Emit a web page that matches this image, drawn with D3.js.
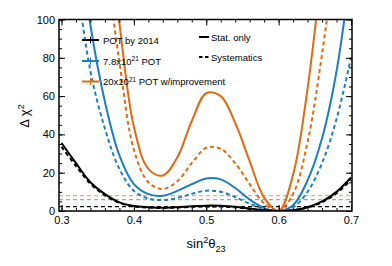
<!DOCTYPE html>
<html>
<head>
<meta charset="utf-8">
<script src="https://cdn.jsdelivr.net/npm/d3@7"></script>
<style>
  body { margin: 0; background: #fff; }
  svg text { font-family: "Liberation Sans", Arial, sans-serif; fill: #000; }
</style>
</head>
<body>
<script>
const w = 392;
const h = 266;

// sin^2(theta23) grid
const sinSq = [0.30, 0.32, 0.34, 0.36, 0.38, 0.40, 0.42, 0.44, 0.46, 0.48, 0.50,
  0.52, 0.54, 0.56, 0.58, 0.60, 0.62, 0.64, 0.66, 0.68, 0.70];

// POT by 2014
const pot2014Stat = [35.5, 25, 15, 8.8, 4.5, 2.6, 2.0, 1.7, 2.0, 2.5, 2.8,
  2.7, 2.2, 1.3, 0.4, 0, 0.4, 2.0, 5.0, 10, 17.5];
const pot2014Syst = [33.5, 23.5, 14.2, 8.2, 4.2, 2.4, 1.8, 1.6, 1.8, 2.2, 2.4,
  2.3, 1.9, 1.1, 0.35, 0, 0.35, 1.8, 4.5, 9.3, 16.2];
// 7.8x10^21 POT
const pot78Stat = [230, 155, 97, 57, 29, 14, 8.8, 8.0, 10.5, 14, 17,
  16.5, 12, 6, 1.5, 0, 3, 16, 38, 73, 127];
const pot78Syst = [200, 125, 73, 43, 22, 10.5, 6.5, 5.7, 6.8, 9, 10.6,
  10, 7.3, 3.8, 1.0, 0, 2, 10, 25, 48, 80];
// 20x10^21 POT w/improvement
const pot20Stat = [450, 340, 240, 160, 98, 44, 22, 18.5, 28, 47, 61.5,
  60, 46, 26, 7, 0, 19, 64, 128, 200, 290];
const pot20Syst = [400, 290, 200, 135, 78, 32, 15, 11.5, 15.5, 25, 33,
  32.5, 25, 14, 4, 0, 9, 36, 82, 140, 210];

// horizontal reference levels
const levels = [8, 5.9, 2.3];

const xTicks = [0.3, 0.4, 0.5, 0.6, 0.7];
const yTicks = [0, 20, 40, 60, 80, 100];

const legendLabels = ["POT by 2014", "7.8x10", "20x10"];

const frame = { left: 59, right: 352, top: 19.5, bottom: 211 };

const x = d3.scaleLinear().domain([0.3, 0.7]).range([61.5, 351]);
const y = d3.scaleLinear().domain([0, 100]).range([frame.bottom, frame.top]);

const blue = "#1a7fc0";
const orange = "#e2690f";

const svg = d3.select("body").append("svg")
  .attr("width", w).attr("height", h);

svg.append("clipPath").attr("id", "clip")
  .append("rect")
  .attr("x", frame.left).attr("y", frame.top)
  .attr("width", frame.right - frame.left)
  .attr("height", frame.bottom - frame.top);

const plot = svg.append("g").attr("clip-path", "url(#clip)");

// reference dashed levels
const levelColors = ["#f4a674", "#a99bd6", "#000"];
plot.selectAll("line.level")
  .data(levels)
  .enter()
  .append("line")
  .attr("class", "level")
  .attr("x1", frame.left).attr("x2", frame.right)
  .attr("y1", d => y(d)).attr("y2", d => y(d))
  .attr("stroke", (d, i) => levelColors[i])
  .attr("stroke-width", 1.2)
  .attr("stroke-dasharray", "4,3");

const line = d3.line()
  .x((d, i) => x(sinSq[i]))
  .y(d => y(d))
  .curve(d3.curveCatmullRom.alpha(0.5));

const series = [
  { v: pot20Syst, c: orange, dash: "4,3" },
  { v: pot20Stat, c: orange, dash: null },
  { v: pot78Syst, c: blue, dash: "4,3" },
  { v: pot78Stat, c: blue, dash: null },
  { v: pot2014Syst, c: "#000", dash: "4,3" },
  { v: pot2014Stat, c: "#000", dash: null }
];

plot.selectAll("path.curve")
  .data(series)
  .enter()
  .append("path")
  .attr("class", "curve")
  .attr("d", d => line(d.v))
  .attr("fill", "none")
  .attr("stroke", d => d.c)
  .attr("stroke-width", 2)
  .attr("stroke-dasharray", d => d.dash);

// axes: majors and minors, inward ticks on all sides
const xMinor = d3.range(0.3, 0.7001, 0.02).map(d => +d.toFixed(2));
const yMinor = d3.range(0, 100.01, 5);

function drawAxis(axis, transform) {
  const g = svg.append("g").attr("transform", transform).call(axis);
  g.select(".domain").remove();
  g.selectAll("line").attr("stroke", "#000").attr("stroke-width", 1);
  g.selectAll("text").style("font-size", "11px")
    .style("font-family", "Liberation Sans, Arial, sans-serif");
  return g;
}

drawAxis(d3.axisBottom(x).tickValues(xMinor).tickFormat("").tickSize(-3),
  "translate(0," + frame.bottom + ")");
drawAxis(d3.axisBottom(x).tickValues(xTicks).tickFormat(d3.format(".1f"))
  .tickSize(-6).tickPadding(5), "translate(0," + frame.bottom + ")");
drawAxis(d3.axisTop(x).tickValues(xMinor).tickFormat("").tickSize(-3),
  "translate(0," + frame.top + ")");
drawAxis(d3.axisTop(x).tickValues(xTicks).tickFormat("").tickSize(-6),
  "translate(0," + frame.top + ")");

drawAxis(d3.axisLeft(y).tickValues(yMinor).tickFormat("").tickSize(-3),
  "translate(" + frame.left + ",0)");
drawAxis(d3.axisLeft(y).tickValues(yTicks).tickSize(-6).tickPadding(4),
  "translate(" + frame.left + ",0)");
drawAxis(d3.axisRight(y).tickValues(yMinor).tickFormat("").tickSize(-3),
  "translate(" + frame.right + ",0)");
drawAxis(d3.axisRight(y).tickValues(yTicks).tickFormat("").tickSize(-6),
  "translate(" + frame.right + ",0)");

// frame
svg.append("rect")
  .attr("x", frame.left).attr("y", frame.top)
  .attr("width", frame.right - frame.left)
  .attr("height", frame.bottom - frame.top)
  .attr("fill", "none")
  .attr("stroke", "#000")
  .attr("stroke-width", 1.5);

// axis titles
const xt = svg.append("text")
  .attr("x", 206).attr("y", 248)
  .attr("text-anchor", "middle")
  .style("font-size", "13px");
xt.append("tspan").text("sin");
xt.append("tspan").attr("dy", -5).style("font-size", "9px").text("2");
xt.append("tspan").attr("dy", 5).text("θ");
xt.append("tspan").attr("dy", 4).style("font-size", "9px").text("23");

const yt = svg.append("text")
  .attr("transform", "translate(29,116) rotate(-90)")
  .attr("text-anchor", "middle")
  .style("font-size", "13px");
yt.append("tspan").text("Δ χ");
yt.append("tspan").attr("dy", -5).style("font-size", "9px").text("2");

// legend: samples
const legendColors = ["#000", blue, orange];
const legendY = [40, 61, 81.5];
const leg = svg.append("g");
legendLabels.forEach((lab, i) => {
  const yy = legendY[i];
  leg.append("line")
    .attr("x1", 82).attr("x2", 99).attr("y1", yy).attr("y2", yy)
    .attr("stroke", legendColors[i]).attr("stroke-width", 2);
  leg.append("line")
    .attr("x1", 90.5).attr("x2", 90.5).attr("y1", yy - 3.5).attr("y2", yy + 3.5)
    .attr("stroke", legendColors[i]).attr("stroke-width", 1);
  const t = leg.append("text")
    .attr("x", 103).attr("y", yy + 3.5)
    .style("font-size", "9.5px");
  t.append("tspan").text(lab);
  if (i > 0) {
    t.append("tspan").attr("dy", -3.5).style("font-size", "6.5px").text("21");
    t.append("tspan").attr("dy", 3.5)
      .text(i === 1 ? " POT" : " POT w/improvement");
  }
});

// legend: stat / syst
const legendStyles = [{ lab: "Stat. only", dash: null, yy: 37 },
  { lab: "Systematics", dash: "3.5,2.5", yy: 57 }];
legendStyles.forEach(s => {
  leg.append("line")
    .attr("x1", 199).attr("x2", 209).attr("y1", s.yy).attr("y2", s.yy)
    .attr("stroke", "#000").attr("stroke-width", 2)
    .attr("stroke-dasharray", s.dash);
  leg.append("text")
    .attr("x", 211).attr("y", s.yy + 3.5)
    .style("font-size", "9.5px")
    .text(s.lab);
});
</script>
</body>
</html>
